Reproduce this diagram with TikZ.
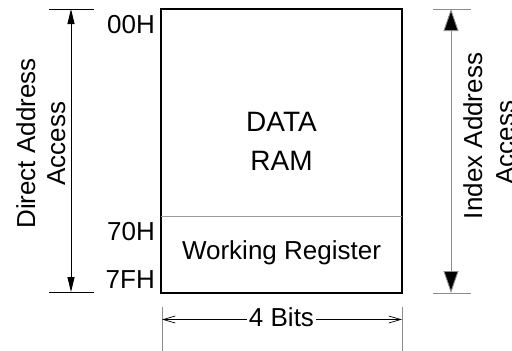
\documentclass[tikz,border=0pt]{standalone}
\usepackage{fontspec}
\setmainfont{Liberation Sans}
\usetikzlibrary{arrows.meta}
\begin{document}
\begin{tikzpicture}[x=1pt,y=-1pt,
  lbl/.style={inner sep=0pt, font=\fontsize{26}{30}\selectfont},
  big/.style={inner sep=0pt, font=\fontsize{28}{34}\selectfont},
  boxline/.style={line width=1.8pt},
  thinline/.style={line width=0.9pt, draw=gray!80},
  tick/.style={line width=0.9pt},
  graytick/.style={line width=0.9pt, draw=gray!90},
  smallarrow/.style={line width=0.9pt, {Triangle[length=15pt,width=7pt]}-{Triangle[length=15pt,width=7pt]}},
  bigarrow/.style={line width=0.9pt, draw=gray!90, {Triangle[length=22pt,width=15pt,fill=black]}-{Triangle[length=22pt,width=15pt,fill=black]}},
  dimarrow/.style={line width=0.7pt, -{Straight Barb[length=12pt,width=7pt]}},
  extline/.style={line width=0.9pt, draw=gray!90}]
\useasboundingbox (0,0) rectangle (512,351);

% memory box
\coordinate (tl) at (161,9);
\coordinate (br) at (402,293);
\coordinate (dl) at (161,216);
\coordinate (dr) at (402,216);
\draw[boxline] (tl) rectangle (br);
\draw[thinline] (dl) -- (dr);

\node[big, anchor=base] (data) at (281.5,131.5) {DATA};
\node[big, anchor=base] (ram) at (281.5,170) {RAM};
\node[lbl, anchor=base] (wr) at (281.5,259.3) {Working Register};

% address labels
\node[lbl, anchor=base east] (a00) at (155,33) {00H};
\node[lbl, anchor=base east] (a70) at (155,240) {70H};
\node[lbl, anchor=base east] (a7f) at (155,288) {7FH};

% left dimension
\coordinate (lt1) at (49,9);  \coordinate (lt2) at (94,9);
\coordinate (lb1) at (49,292); \coordinate (lb2) at (94,292);
\coordinate (la1) at (71,9);  \coordinate (la2) at (71,292);
\draw[tick] (lt1) -- (lt2);
\draw[tick] (lb1) -- (lb2);
\draw[smallarrow] (la1) -- (la2);
\node[lbl, anchor=base, rotate=90] (da1) at (35,143.5) {Direct Address};
\node[lbl, anchor=base, rotate=90] (da2) at (65,143.5) {Access};

% right dimension
\coordinate (rt1) at (433,9);  \coordinate (rt2) at (471,9);
\coordinate (rb1) at (433,293); \coordinate (rb2) at (471,293);
\coordinate (ra1) at (451,9);  \coordinate (ra2) at (451,293);
\draw[graytick] (rt1) -- (rt2);
\draw[graytick] (rb1) -- (rb2);
\draw[bigarrow] (ra1) -- (ra2);
\node[lbl, anchor=base, rotate=90] (ia1) at (482,136) {Index Address};
\node[lbl, anchor=base, rotate=90] (ia2) at (514,142.5) {Access};

% bottom dimension
\coordinate (e1a) at (162,307); \coordinate (e1b) at (162,351);
\coordinate (e2a) at (402,307); \coordinate (e2b) at (402,351);
\draw[extline] (e1a) -- (e1b);
\draw[extline] (e2a) -- (e2b);
\coordinate (bl) at (162,319.5);
\coordinate (br) at (402,319.5);
\node[lbl, anchor=base, inner xsep=2pt] (bits) at (281.5,326.5) {4 Bits};
\draw[dimarrow] (bits.west |- bl) -- (bl);
\draw[dimarrow] (bits.east |- br) -- (br);
\end{tikzpicture}
\end{document}
